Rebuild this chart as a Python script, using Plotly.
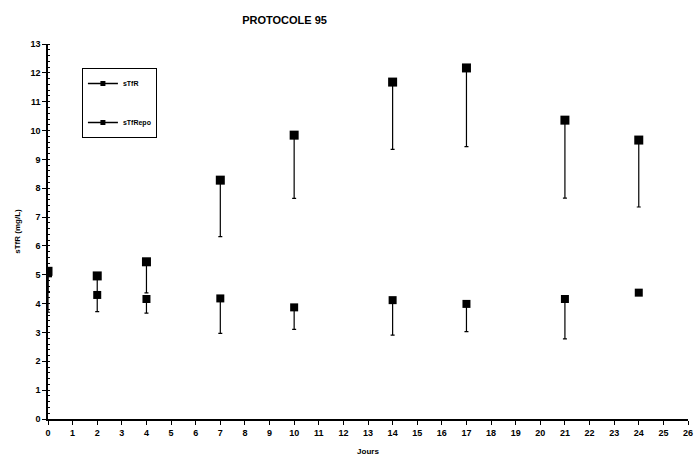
import plotly.graph_objects as go

days = [0, 2, 4, 7, 10, 14, 17, 21, 24]
stfr = [5.05, 4.30, 4.16, 4.18, 3.87, 4.12, 3.99, 4.16, 4.38]
stfr_err_minus = [1.35, 0.58, 0.49, 1.21, 0.76, 1.21, 0.96, 1.38, 0.0]
stfr_epo = [5.12, 4.96, 5.45, 8.28, 9.84, 11.68, 12.17, 10.36, 9.67]
stfr_epo_err_minus = [0.70, 0.61, 1.08, 1.96, 2.19, 2.33, 2.73, 2.70, 2.32]
x_ticks = list(range(0, 27))
y_ticks = list(range(0, 14))

FONT = "Liberation Sans, Arial, sans-serif"

fig = go.Figure()

def err(vals):
    return dict(type="data", symmetric=False, array=[0] * len(vals),
                arrayminus=vals, color="black", thickness=1.2, width=2)

fig.add_trace(go.Scatter(x=days, y=stfr_epo, mode="markers", showlegend=False,
                         marker=dict(symbol="square", size=9, color="black"),
                         error_y=err(stfr_epo_err_minus)))
fig.add_trace(go.Scatter(x=days, y=stfr, mode="markers", showlegend=False,
                         marker=dict(symbol="square", size=8, color="black"),
                         error_y=err(stfr_err_minus)))
# legend entries
fig.add_trace(go.Scatter(x=[None], y=[None], mode="lines+markers", name="sTfR",
                         legendgroup="a",
                         line=dict(color="black", width=1.5),
                         marker=dict(symbol="square", size=5, color="black")))
fig.add_trace(go.Scatter(x=[None], y=[None], mode="lines+markers", name="sTfRepo",
                         legendgroup="b",
                         line=dict(color="black", width=1.5),
                         marker=dict(symbol="square", size=5, color="black")))

fig.update_layout(
    width=694, height=456,
    margin=dict(l=48, r=6, t=44, b=37),
    paper_bgcolor="white", plot_bgcolor="white",
    font=dict(family=FONT, size=8, color="black", weight="bold"),
    title=dict(text="PROTOCOLE 95", x=0.41, xanchor="center", y=0.955, yanchor="middle",
               font=dict(family=FONT, size=11, color="black", weight="bold")),
    legend=dict(x=0.053, y=0.936, xanchor="left", yanchor="top",
                bordercolor="black", borderwidth=1, bgcolor="white",
                font=dict(family=FONT, size=7, weight="bold"),
                traceorder="grouped", tracegroupgap=20, itemwidth=30),
    xaxis=dict(range=[0, 26], tickmode="array", tickvals=x_ticks,
               ticktext=[str(v) for v in x_ticks], automargin=False,
               showgrid=False, zeroline=False, showline=True, linecolor="black",
               linewidth=1.5, ticks="outside", ticklen=4, tickcolor="black",
               title=dict(text="Jours", standoff=14, font=dict(size=8)),
               tickfont=dict(size=9)),
    yaxis=dict(range=[0, 13], tickmode="array", tickvals=y_ticks,
               ticktext=[str(v) for v in y_ticks], automargin=False,
               showgrid=False, zeroline=False, showline=True, linecolor="black",
               linewidth=1.5, ticks="outside", ticklen=4, tickcolor="black",
               minor=dict(dtick=0.2, ticks="inside", ticklen=2, tickcolor="black", showgrid=False),
               title=dict(text="sTfR (mg/L)", standoff=9, font=dict(size=8)),
               tickfont=dict(size=9)),
)

fig.write_html("out.html")
